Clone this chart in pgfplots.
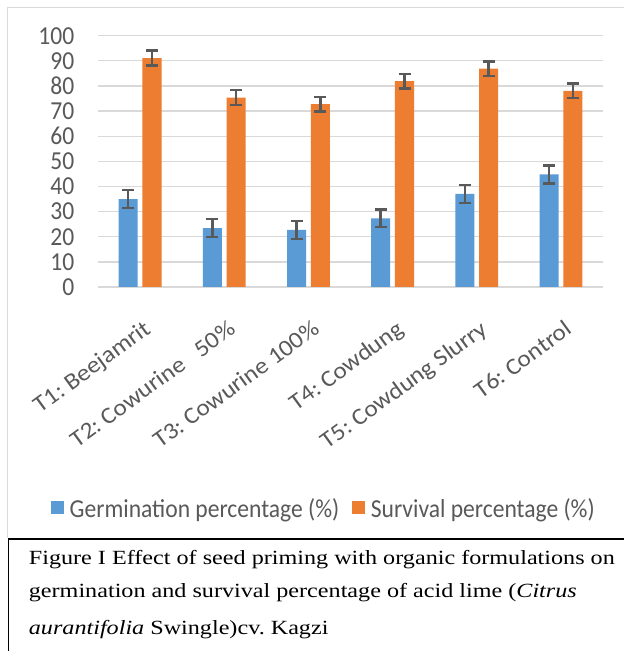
\documentclass[border=0pt]{standalone}
\usepackage{fontspec}
\setmainfont{Liberation Serif}
\newfontfamily\calfont{Carlito}[FakeStretch=0.91]
\newfontfamily\callab{Carlito}[FakeStretch=1.08]
\newfontfamily\capfont{Liberation Serif}[FakeStretch=1.2]
\usepackage{pgfplots}
\usepackage{pgfplotstable}
\pgfplotsset{compat=1.18}
\definecolor{cblue}{HTML}{5B9BD5}
\definecolor{corange}{HTML}{ED7D31}
\definecolor{ctext}{HTML}{595959}
\definecolor{cgrid}{HTML}{D9D9D9}
\definecolor{cerr}{HTML}{595959}

\pgfplotstableread{
x g gerr s serr
0 35.0 3.6 91.1 3.0
1 23.4 3.6 75.4 3.0
2 22.7 3.6 72.8 2.9
3 27.3 3.5 81.9 2.9
4 37.1 3.6 86.9 2.9
5 44.8 3.6 78.0 2.9
}\datatable

\begin{document}
\frenchspacing
\begin{tikzpicture}[x=1bp,y=1bp]
\useasboundingbox (0,0) rectangle (624,651);
\fill[white] (0,0) rectangle (624,651);
\draw[cgrid, line width=1.5bp] (7.5,113) -- (7.5,643.5) -- (624,643.5);
\draw[black, line width=1.1bp] (8.3,0) -- (8.3,112) -- (624,112);
\node[anchor=base west, inner sep=0, font=\capfont\fontsize{20.2}{24}\selectfont] at (28.7,86) {Figure I Effect of seed priming with organic formulations on};
\node[anchor=base west, inner sep=0, font=\capfont\fontsize{20.2}{24}\selectfont] at (28.7,53) {germination and survival percentage of acid lime (\textit{Citrus}};
\node[anchor=base west, inner sep=0, font=\capfont\fontsize{20.2}{24}\selectfont] at (28.7,16) {\textit{aurantifolia} Swingle)cv. Kagzi};
\begin{axis}[
  at={(98bp,364bp)}, anchor=south west,
  scale only axis, width=505bp, height=251.3bp,
  xmin=-0.5, xmax=5.5, ymin=0, ymax=100,
  ybar, bar width=0.226,
  axis x line*=bottom, axis y line*=left,
  x axis line style={cgrid, line width=1.5bp, -},
  y axis line style={draw=none},
  major tick length=0,
  ytick={0,10,...,100},
  xtick={0.0356,1.0356,2.0356,3.0356,4.0356,5.0356},
  xticklabels={T1: Beejamrit, T2: Cowurine\ \ \ 50\%, T3: Cowurine 100\%, T4: Cowdung, T5: Cowdung Slurry, T6: Control},
  xticklabel shift=32bp,
  ymajorgrids, grid style={cgrid, line width=1.3bp},
  yticklabel style={font=\calfont\fontsize{26}{28}\selectfont, text=ctext, inner sep=0, xshift=-23.5bp},
  xticklabel style={font=\callab\fontsize{23.5}{26}\selectfont, text=ctext, inner sep=0, rotate=36, anchor=north east},
  /pgf/number format/assume math mode=true,
  legend columns=2,
  legend style={at={(-0.0931,-0.8794)}, anchor=west, draw=none, fill=none, inner sep=0,
    font=\calfont\fontsize{26}{28}\selectfont, text=ctext,
    nodes={inner sep=0, text depth=0pt},
    /tikz/every odd column/.append style={column sep=5.5bp},
    /tikz/every even column/.append style={column sep=13bp}},
]
\addplot[fill=cblue, draw=none, bar shift=-0.1415,
  legend image code/.code={\fill[cblue] (0bp,-6.5bp) rectangle (13bp,6.5bp);},
  error bars/.cd, y dir=both, y explicit,
  error bar style={line width=2.4bp, cerr},
  error mark options={rotate=90, mark size=6bp, line width=2.4bp, cerr}]
  table[x=x, y=g, y error=gerr] {\datatable};
\addlegendentry{Germination percentage (\%)}
\addplot[fill=corange, draw=none, bar shift=0.1415,
  legend image code/.code={\fill[corange] (0bp,-6.5bp) rectangle (13bp,6.5bp);},
  error bars/.cd, y dir=both, y explicit,
  error bar style={line width=2.4bp, cerr},
  error mark options={rotate=90, mark size=6bp, line width=2.4bp, cerr}]
  table[x=x, y=s, y error=serr] {\datatable};
\addlegendentry{Survival percentage (\%)}
\end{axis}
\end{tikzpicture}
\end{document}
